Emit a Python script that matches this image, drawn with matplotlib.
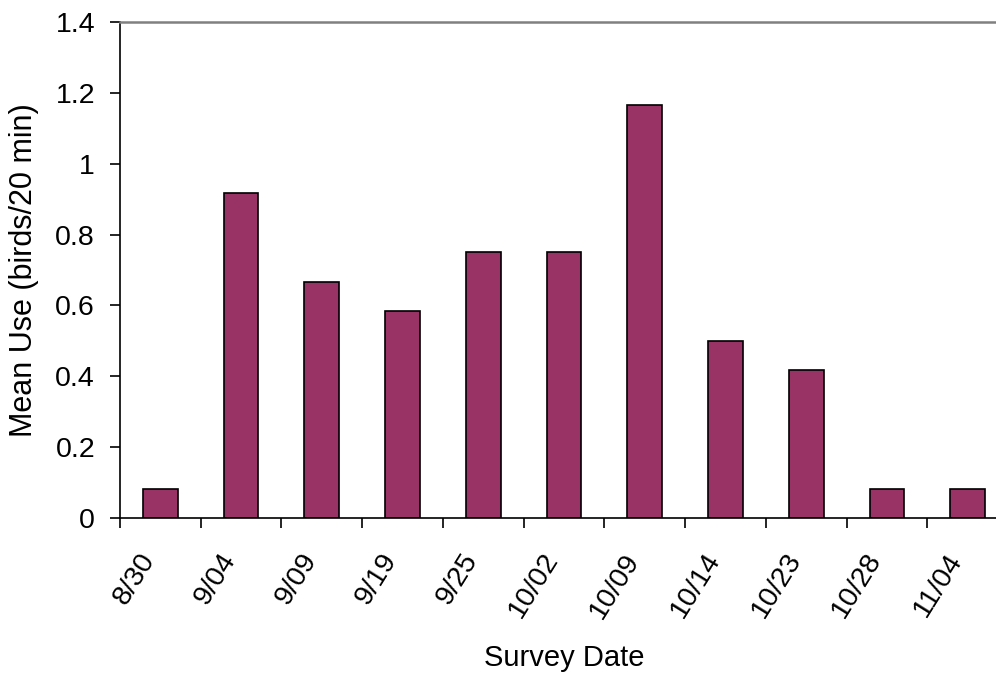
import matplotlib
matplotlib.use("Agg")
import matplotlib.pyplot as plt
import numpy as np

plt.rcParams['font.family'] = ['Liberation Sans', 'DejaVu Sans']

# survey dates and mean use (birds/20 min)
dates = ['8/30', '9/04', '9/09', '9/19', '9/25', '10/02', '10/09',
         '10/14', '10/23', '10/28', '11/04']
mean_use = [0.083, 0.917, 0.667, 0.583, 0.75, 0.75, 1.167,
            0.5, 0.417, 0.083, 0.083]

fig = plt.figure(figsize=(9.96, 6.73), dpi=100)
# plot area runs a little past the right edge of the picture, like the original
ax = fig.add_axes([120/996, 1 - 518/673, 888/996, 496/673])

x = np.arange(len(dates))
ax.bar(x, mean_use, width=0.43, color='#993366', edgecolor='black', linewidth=1.2)

ax.set_xlim(-0.5, len(dates) - 0.5)
ax.set_ylim(0, 1.4)
ax.set_yticks(np.arange(0, 1.41, 0.2))
ax.set_yticklabels(['0', '0.2', '0.4', '0.6', '0.8', '1', '1.2', '1.4'])

ax.set_xticks(x)
ax.set_xticklabels(dates, rotation=58, ha='right', va='top')
ax.set_xticks(np.arange(-0.5, len(dates)), minor=True)
ax.tick_params(axis='x', which='major', length=0, pad=22, labelsize=20.5)
ax.tick_params(axis='x', which='minor', length=7, width=1.2, direction='out')
ax.tick_params(axis='y', length=7, width=1.2, direction='out', pad=11, labelsize=20.5)

ax.spines['right'].set_visible(False)
ax.spines['top'].set_color('#808080')
ax.spines['top'].set_linewidth(1.8)
ax.spines['left'].set_linewidth(1.2)
ax.spines['bottom'].set_linewidth(1.2)

ax.set_xlabel('Survey Date', fontsize=21, va='center')
ax.xaxis.set_label_coords(0.5, -0.282)
ax.set_ylabel('Mean Use (birds/20 min)', fontsize=22, va='center')
ax.yaxis.set_label_coords(-0.108, 0.5)

fig.savefig('out.png', dpi=100)
